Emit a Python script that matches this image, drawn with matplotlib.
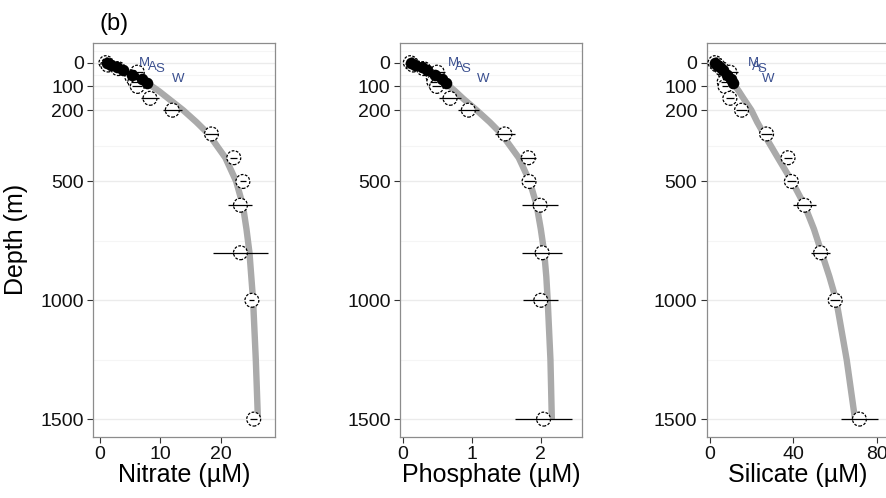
import matplotlib
matplotlib.use('Agg')
import matplotlib.pyplot as plt

plt.rcParams['font.family'] = ['Liberation Sans', 'DejaVu Sans']

# observed profile means (open circles) with horizontal error bars
obs_depth = [0, 10, 25, 40, 60, 80, 100, 150, 200, 300, 400, 500, 600, 800, 1000, 1500]
nitrate = [1.0, 1.3, 3.0, 6.2, 5.3, 5.8, 6.2, 8.3, 12.0, 18.5, 22.2, 23.7, 23.3, 23.3, 25.2, 25.5]
nitrate_err = [0.4, 0.5, 0.8, 0.95, 0.6, 0.6, 0.8, 1.45, 1.6, 1.1, 0.6, 0.5, 2.0, 4.5, 0.4, 0.6]
phosphate = [0.11, 0.15, 0.30, 0.50, 0.44, 0.45, 0.49, 0.685, 0.95, 1.48, 1.82, 1.83, 1.99, 2.02, 2.00, 2.04]
phosphate_err = [0.03, 0.04, 0.06, 0.11, 0.05, 0.05, 0.06, 0.155, 0.15, 0.15, 0.115, 0.08, 0.255, 0.29, 0.255, 0.41]
silicate = [2.4, 3.5, 5.5, 9.5, 7.5, 6.8, 7.2, 9.5, 15.1, 27.1, 37.4, 39.0, 45.3, 53.0, 60.0, 71.6]
silicate_err = [1.0, 1.2, 1.5, 4.0, 1.5, 1.5, 1.5, 2.0, 2.5, 2.5, 2.0, 2.0, 5.5, 4.5, 2.5, 9.0]

# surface layer values (filled circles)
surf_depth = [0, 10, 20, 30, 50, 70, 85]
surf_nitrate = [1.2, 1.8, 2.8, 3.8, 5.3, 7.0, 7.8]
surf_phosphate = [0.12, 0.18, 0.28, 0.35, 0.47, 0.57, 0.62]
surf_silicate = [2.5, 3.5, 4.8, 6.0, 8.0, 10.0, 11.0]

# fitted profile (grey line)
fit_depth = [85, 120, 150, 200, 250, 300, 400, 500, 600, 700, 800, 900, 1000, 1250, 1500]
fit_nitrate = [7.8, 9.8, 11.3, 13.8, 16.0, 18.0, 20.8, 22.6, 23.7, 24.3, 24.8, 25.1, 25.4, 25.85, 26.2]
fit_phosphate = [0.62, 0.76, 0.87, 1.07, 1.26, 1.43, 1.68, 1.84, 1.94, 2.00, 2.05, 2.08, 2.10, 2.14, 2.16]
fit_silicate = [11.0, 13.8, 16.0, 19.8, 22.6, 25.8, 32.5, 39.3, 45.3, 49.8, 53.5, 57.2, 60.5, 65.5, 69.5]

# season labels
seasons = ['M', 'A', 'S', 'W']
season_depth = [2, 18, 28, 70]
season_x_nitrate = [7.3, 8.7, 9.9, 13.0]
season_x_phosphate = [0.73, 0.82, 0.91, 1.16]
season_x_silicate = [20.7, 22.3, 24.7, 27.8]

panels = [
    ('Nitrate (µM)', nitrate, nitrate_err, surf_nitrate, fit_nitrate, season_x_nitrate,
     (-1.1, 29.0), [0, 10, 20], 93.3),
    ('Phosphate (µM)', phosphate, phosphate_err, surf_phosphate, fit_phosphate, season_x_phosphate,
     (-0.04, 2.59), [0, 1, 2], 400.0),
    ('Silicate (µM)', silicate, silicate_err, surf_silicate, fit_silicate, season_x_silicate,
     (-1.6, 85.4), [0, 40, 80], 706.7),
]

W, H = 887, 498
fig = plt.figure(figsize=(W / 100, H / 100), dpi=100)

for i, (xlabel, vals, errs, surf, fit, sx, xlim, xticks, left) in enumerate(panels):
    ax = fig.add_axes([left / W, 1 - 436.7 / H, 181.5 / W, (436.7 - 42.7) / H])
    ax.plot(fit, fit_depth, color='#aaaaaa', lw=4.6, solid_capstyle='butt', zorder=2)
    ax.scatter(vals, obs_depth, s=100, facecolor='white', edgecolor='black',
               linewidths=0.9, linestyles=(0, (2.2, 1.2)), zorder=3)
    ax.errorbar(vals, obs_depth, xerr=errs, fmt='none', ecolor='black',
                elinewidth=0.9, capsize=0, zorder=4)
    ax.scatter(surf, surf_depth, s=70, color='black', linewidths=0, zorder=5)
    for lab, x, d in zip(seasons, sx, season_depth):
        ax.text(x, d, lab, fontsize=9.5, color='#3a4f8f', ha='center', va='center', zorder=6)

    ax.set_xlim(*xlim)
    ax.set_ylim(1574, -84)
    ax.set_xticks(xticks)
    ax.set_yticks([0, 100, 200, 500, 1000, 1500])
    ax.set_yticks([-50, 50, 150, 350, 750, 1250], minor=True)
    ax.grid(axis='y', which='major', color='#ebebeb', lw=1.0)
    ax.grid(axis='y', which='minor', color='#f5f5f5', lw=0.8)
    ax.grid(axis='x', visible=False)
    ax.set_axisbelow(True)
    ax.tick_params(which='minor', length=0)
    ax.tick_params(which='major', length=4.3, width=0.8, color='#333333',
                   labelsize=14, labelcolor='#111111', pad=2.5)
    for sp in ax.spines.values():
        sp.set_color('#8c8c8c')
        sp.set_linewidth(0.9)
    ax.set_xlabel(xlabel, fontsize=18, labelpad=0)
    if i == 0:
        ax.set_ylabel('Depth (m)', fontsize=18)
        ax.yaxis.set_label_coords(-0.36, 0.5)

fig.text(100 / W, 1 - 24 / H, '(b)', fontsize=17, ha='left', va='center')

fig.savefig('out.png', dpi=100)
